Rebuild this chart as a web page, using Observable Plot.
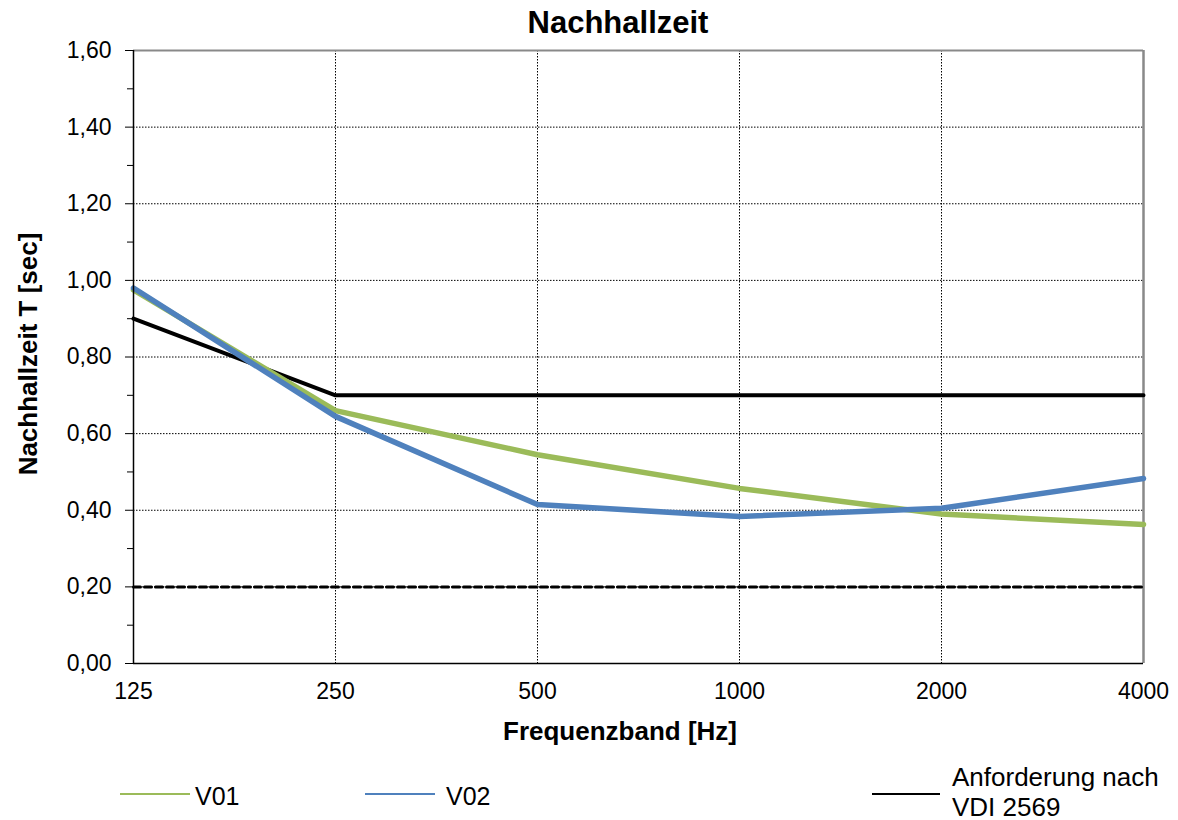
<!DOCTYPE html>
<html><head><meta charset="utf-8">
<script src="https://cdn.jsdelivr.net/npm/d3@7"></script>
<script src="https://cdn.jsdelivr.net/npm/@observablehq/plot@0.6"></script>
<style>
body{margin:0;background:#fff;font-family:"Liberation Sans",Arial,sans-serif;}
#wrap{position:relative;width:1178px;height:820px;}
.abs{position:absolute;color:#000;white-space:nowrap;line-height:1;}
.sw{position:absolute;height:2px;}
</style></head><body>
<div id="wrap"></div>
<script>
const frequencies = ["125","250","500","1000","2000","4000"];
const v01 = [0.975, 0.66, 0.545, 0.457, 0.39, 0.363];
const v02 = [0.98, 0.645, 0.415, 0.384, 0.405, 0.483];
const requirement = [0.90, 0.70, 0.70, 0.70, 0.70, 0.70];
const lowerLimit = [0.20, 0.20, 0.20, 0.20, 0.20, 0.20];
const yTicks = [0, 0.2, 0.4, 0.6, 0.8, 1.0, 1.2, 1.4, 1.6];
const yMinor = [0.1, 0.3, 0.5, 0.7, 0.9, 1.1, 1.3, 1.5];

const rows = (vals, s) => frequencies.map((f, i) => ({f, v: vals[i], s}));
const fmt = d => d.toFixed(2).replace(".", ",");

const plot = Plot.plot({
  width: 1178, height: 820,
  marginTop: 50, marginBottom: 157, marginLeft: 133, marginRight: 35,
  style: {fontFamily: '"Liberation Sans", Arial, sans-serif', fontSize: "23px", color: "#000", background: "#fff"},
  x: {type: "point", domain: frequencies, padding: 0},
  y: {domain: [0, 1.6]},
  marks: [
    Plot.gridY(yTicks.slice(1), {stroke: "#000", strokeOpacity: 1, strokeDasharray: "1.5,1.5", strokeWidth: 1}),
    Plot.gridX(frequencies.slice(1), {stroke: "#000", strokeOpacity: 1, strokeDasharray: "1.5,1.5", strokeWidth: 1}),
    Plot.ruleY([1.6], {stroke: "#898989", strokeWidth: 2}),
    Plot.ruleX(["4000"], {stroke: "#898989", strokeWidth: 2.5}),
    Plot.axisY({ticks: yTicks, tickFormat: fmt, tickSize: 8, tickPadding: 14, fontSize: 23, label: null}),
    Plot.axisY({ticks: yMinor, tickFormat: () => "", tickSize: 6, label: null}),
    Plot.axisX({tickSize: 0, tickPadding: 19, fontSize: 23, label: null}),
    Plot.line(rows(lowerLimit, "min"), {x: "f", y: "v", stroke: "#000", strokeWidth: 3, strokeDasharray: "7,4"}),
    Plot.line(rows(requirement, "req"), {x: "f", y: "v", stroke: "#000", strokeWidth: 4}),
    Plot.line(rows(v01, "V01"), {x: "f", y: "v", stroke: "#9BBB59", strokeWidth: 5.5}),
    Plot.line(rows(v02, "V02"), {x: "f", y: "v", stroke: "#4F81BD", strokeWidth: 5.5}),
    Plot.ruleX([frequencies[0]], {stroke: "#000", strokeWidth: 1.5, y1: 0, y2: 1.6}),
    Plot.ruleY([0], {stroke: "#000", strokeWidth: 1.5})
  ]
});
const wrap = document.getElementById("wrap");
wrap.appendChild(plot);

function addText(txt, x, y, opts = {}) {
  const d = document.createElement("div");
  d.className = "abs";
  d.textContent = txt;
  d.style.left = x + "px"; d.style.top = y + "px";
  d.style.fontSize = (opts.size || 18) + "px";
  if (opts.bold) d.style.fontWeight = "bold";
  if (opts.center) d.style.transform = "translateX(-50%)";
  if (opts.rotate) { d.style.transform = "translate(-50%,-50%) rotate(-90deg)"; }
  wrap.appendChild(d);
  return d;
}
addText("Nachhallzeit", 618, 7, {size: 31, bold: true, center: true});
addText("Frequenzband [Hz]", 620, 718, {size: 26, bold: true, center: true});
addText("Nachhallzeit T [sec]", 28, 354, {size: 26, bold: true, rotate: true});

function swatch(x, y, w, color) {
  const s = document.createElement("div");
  s.className = "sw";
  s.style.left = x + "px"; s.style.top = y + "px"; s.style.width = w + "px";
  s.style.background = color;
  wrap.appendChild(s);
}
swatch(120, 793, 70, "#9BBB59");
addText("V01", 195, 784, {size: 25});
swatch(365, 793, 70, "#4F81BD");
addText("V02", 446, 784, {size: 25});
swatch(872, 793, 68, "#000");
addText("Anforderung nach", 952, 764, {size: 26});
addText("VDI 2569", 952, 794, {size: 26});
</script>
</body></html>
